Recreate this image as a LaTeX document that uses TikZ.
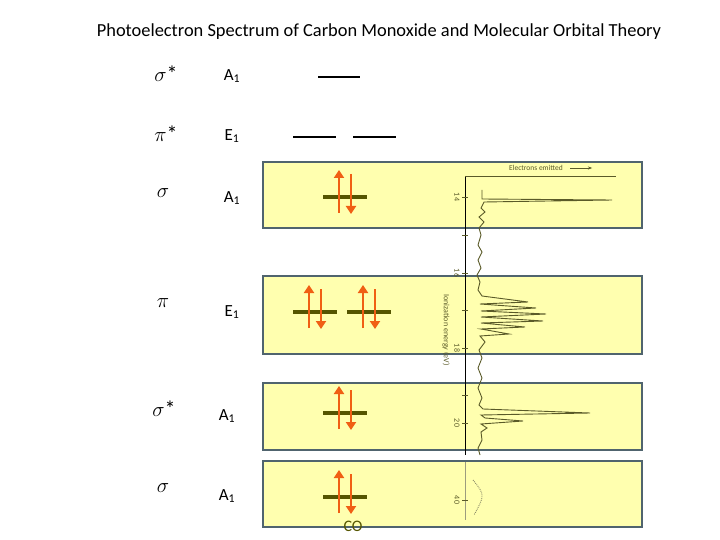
\documentclass[tikz,border=0pt]{standalone}
\usepackage{fontspec}
\setmainfont{Carlito}
\usetikzlibrary{arrows.meta}
\definecolor{boxfill}{RGB}{255,255,175}
\definecolor{boxline}{RGB}{80,100,110}
\definecolor{lev}{RGB}{85,85,0}
\definecolor{elec}{RGB}{240,95,20}
\definecolor{spec}{RGB}{90,90,40}
\tikzset{
 band/.style={draw=boxline,line width=2pt,fill=boxfill},
 level/.style={draw=lev,line width=3.2pt},
 emptylev/.style={draw=black,line width=2.6pt},
 up/.style={draw=elec,line width=2.8pt,-{Triangle[length=8pt,width=10pt]}},
 lbl/.style={font=\fontsize{17}{17}\selectfont},
 sym/.style={font=\fontsize{22}{22}\selectfont},
 tick/.style={font=\fontsize{8}{8}\selectfont,rotate=-90,text=spec},
 trace/.style={draw=spec,line width=0.9pt}
}
\begin{document}
\begin{tikzpicture}[x=1pt,y=-1pt]
\useasboundingbox (0,0) rectangle (720,540);
\node[font=\fontsize{18.4}{19}\selectfont] (title) at (379,32) {Photoelectron Spectrum of Carbon Monoxide and Molecular Orbital Theory};
% bands
\node[band,minimum width=379pt,minimum height=66pt,inner sep=0pt] (b1) at (452.5,195) {};
\node[band,minimum width=379pt,minimum height=78pt,inner sep=0pt] (b2) at (452.5,315) {};
\node[band,minimum width=379pt,minimum height=67pt,inner sep=0pt] (b3) at (452.5,416.5) {};
\node[band,minimum width=379pt,minimum height=66pt,inner sep=0pt] (b4) at (452.5,494) {};
% labels
\node[sym] (s1) at (166,74) {$\sigma$*};
\node[lbl] (a1) at (232,76) {A\textsubscript{1}};
\node[sym] (s2) at (166,134) {$\pi$*};
\node[lbl] (a2) at (232,136) {E\textsubscript{1}};
\node[sym] (s3) at (163,193) {$\sigma$};
\node[lbl] (a3) at (232,198) {A\textsubscript{1}};
\node[sym] (s4) at (163,303) {$\pi$};
\node[lbl] (a4) at (232,312) {E\textsubscript{1}};
\node[sym] (s5) at (164,409) {$\sigma$*};
\node[lbl] (a5) at (227,416) {A\textsubscript{1}};
\node[sym] (s6) at (163,488) {$\sigma$};
\node[lbl] (a6) at (227,496) {A\textsubscript{1}};
\node[font=\fontsize{16}{16}\selectfont,text=lev] (co) at (353,526) {CO};
% empty levels
\coordinate (e1a) at (318,77); \coordinate (e1b) at (360,77);
\draw[emptylev] (e1a) -- (e1b);
\coordinate (e2a) at (293,137); \coordinate (e2b) at (336,137);
\coordinate (e3a) at (353,137); \coordinate (e3b) at (396,137);
\draw[emptylev] (e2a) -- (e2b); \draw[emptylev] (e3a) -- (e3b);
% filled levels with arrows
\foreach \cx/\cy in {345/197, 315/312, 369/312, 345/413, 345/497}{
  \draw[level] (\cx-22,\cy) -- (\cx+22,\cy);
  \draw[up] (\cx-6,\cy+16) -- (\cx-6,\cy-27);
  \draw[up] (\cx+6,\cy-23) -- (\cx+6,\cy+17);
}
% spectrum axis
\coordinate (ax0) at (465,176); \coordinate (ax1) at (465,455);
\coordinate (ax2) at (465,462); \coordinate (ax3) at (465,520);
\draw[line width=1pt] (ax0) -- (ax1);
\draw[spec!60,line width=1pt] (ax2) -- (ax3);
\coordinate (tp) at (616,176);
\draw[spec,line width=0.9pt] (ax0) -- (tp);
\node[font=\fontsize{7.5}{8}\selectfont,text=spec] (em) at (536,168) {Electrons emitted};
\coordinate (emA) at (570,168); \coordinate (emB) at (592,168);
\draw[spec,-{Stealth[length=4pt]}] (emA) -- (emB);
\foreach \yy/\tt in {197/14,273/16,348/18,423/20,500/40}{
  \draw[spec] (462,\yy) -- (468,\yy);
  \node[tick] at (457,\yy) {\tt};
}
\foreach \yy in {235,310,395}{\draw[spec] (462,\yy) -- (468,\yy);}
\node[tick] (ie) at (446,330) {Ionization energy (eV)};
% trace
\draw[trace] (482,190) -- (482,199) -- (612,200) -- (484,202)
 -- (481,208) -- (485,212) -- (479,217) -- (484,222) -- (479,228)
 -- (481,235) -- (478,245) -- (482,252) -- (478,260) -- (481,268) -- (477,275)
 -- (480,282) -- (478,290) -- (482,296) -- (528,302) -- (480,304)
 -- (536,308) -- (481,311) -- (546,314) -- (481,317) -- (543,321) -- (481,323)
 -- (525,327) -- (481,329) -- (509,334) -- (480,336) -- (485,342)
 -- (479,350) -- (482,358) -- (478,368) -- (482,378) -- (478,388)
 -- (482,398) -- (479,405) -- (483,409) -- (590,413) -- (481,415) -- (485,418)
 -- (523,421) -- (481,424) -- (487,428) -- (481,432) -- (482,440) -- (478,448) -- (480,455);
\draw[trace,densely dotted,spec!70] (473,480) .. controls (485,495) .. (474,515);
\end{tikzpicture}
\end{document}
